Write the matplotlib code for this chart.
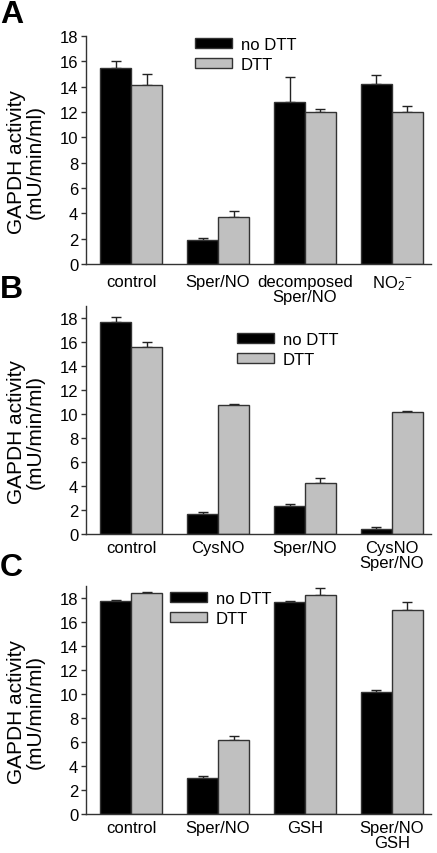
import matplotlib
matplotlib.use("Agg")
import matplotlib.pyplot as plt
import numpy as np

plt.rcParams['font.family'] = ['Liberation Sans', 'DejaVu Sans']
plt.rcParams['mathtext.fontset'] = 'custom'
plt.rcParams['mathtext.rm'] = 'Liberation Sans'
plt.rcParams['mathtext.it'] = 'Liberation Sans:italic'
plt.rcParams['mathtext.bf'] = 'Liberation Sans:bold'

series_names = ["no DTT", "DTT"]

cats_a = ["control", "Sper/NO", "decomposed\nSper/NO", r"NO$_2$$^{-}$"]
nodtt_a = [15.45, 1.89, 12.82, 14.18]
nodtt_a_err = [0.58, 0.19, 1.97, 0.71]
dtt_a = [14.1, 3.74, 12.03, 12.03]
dtt_a_err = [0.87, 0.45, 0.23, 0.42]

cats_b = ["control", "CysNO", "Sper/NO", "CysNO\nSper/NO"]
nodtt_b = [17.69, 1.69, 2.36, 0.44]
nodtt_b_err = [0.42, 0.11, 0.14, 0.14]
dtt_b = [15.61, 10.78, 4.28, 10.19]
dtt_b_err = [0.42, 0.06, 0.42, 0.08]

cats_c = ["control", "Sper/NO", "GSH", "Sper/NO\nGSH"]
nodtt_c = [17.75, 3.0, 17.64, 10.17]
nodtt_c_err = [0.11, 0.19, 0.11, 0.14]
dtt_c = [18.44, 6.14, 18.28, 17.03]
dtt_c_err = [0.08, 0.33, 0.56, 0.64]

yticks = list(range(0, 19, 2))

W, H = 437, 854
fig = plt.figure(figsize=(W / 100, H / 100), dpi=100)

EDGE = '#333333'
GRAY = '#c0c0c0'
FS = 12
BW = 0.356


def px_axes(top_px, bottom_px, left_px=86, right_px=431):
    return fig.add_axes([left_px / W, 1 - bottom_px / H,
                         (right_px - left_px) / W, (bottom_px - top_px) / H])


def panel(ax, cats, v1, e1, v2, e2, ymax, leg_xy, xpad, label_y):
    x = np.arange(len(cats))
    ax.bar(x - BW / 2, v1, BW, color='black', edgecolor=EDGE, linewidth=1.0,
           label=series_names[0], zorder=2)
    ax.bar(x + BW / 2, v2, BW, color=GRAY, edgecolor=EDGE, linewidth=1.0,
           label=series_names[1], zorder=2)
    ax.errorbar(x - BW / 2, v1, yerr=[np.zeros(len(v1)), e1], fmt='none',
                ecolor='#222222', elinewidth=1.0, capsize=3.5, capthick=1.0, zorder=1)
    ax.errorbar(x + BW / 2, v2, yerr=[np.zeros(len(v2)), e2], fmt='none',
                ecolor='#222222', elinewidth=1.0, capsize=3.5, capthick=1.0, zorder=1)
    ax.set_xlim(-0.52, 3.45)
    ax.set_ylim(0, ymax)
    ax.set_yticks(yticks)
    ax.set_xticks(x)
    ax.set_xticklabels(cats, fontsize=FS, va='top', linespacing=1.05)
    ax.tick_params(axis='x', length=0, pad=xpad)
    ax.tick_params(axis='y', length=3.5, width=1.0, color=EDGE, labelsize=FS, pad=2)
    for s in ['top', 'right']:
        ax.spines[s].set_visible(False)
    for s in ['left', 'bottom']:
        ax.spines[s].set_color(EDGE)
        ax.spines[s].set_linewidth(1.0)
    ax.set_ylabel("GAPDH activity\n(mU/min/ml)", fontsize=15, linespacing=1.0)
    ax.yaxis.set_label_coords(-0.119, label_y)
    ax.legend(loc='upper left', bbox_to_anchor=(leg_xy[0] / W, 1 - leg_xy[1] / H),
              bbox_transform=fig.transFigure, frameon=False, fontsize=FS,
              handlelength=2.2, handleheight=0.55, handletextpad=0.55,
              labelspacing=0.3, borderpad=0, borderaxespad=0)


axA = px_axes(37, 265)
panel(axA, cats_a, nodtt_a, nodtt_a_err, dtt_a, dtt_a_err, 18, (195, 38), 7, 0.45)
axB = px_axes(307, 535)
panel(axB, cats_b, nodtt_b, nodtt_b_err, dtt_b, dtt_b_err, 19, (237, 333), 4, 0.45)
axC = px_axes(587, 815)
panel(axC, cats_c, nodtt_c, nodtt_c_err, dtt_c, dtt_c_err, 19, (170, 592), 4, 0.45)

for letter, ytop in [("A", 0), ("B", 275), ("C", 553)]:
    fig.text(0 / W, 1 - ytop / H, letter, fontsize=23, fontweight='bold',
             va='top', ha='left')

fig.savefig("out.png", dpi=100)
